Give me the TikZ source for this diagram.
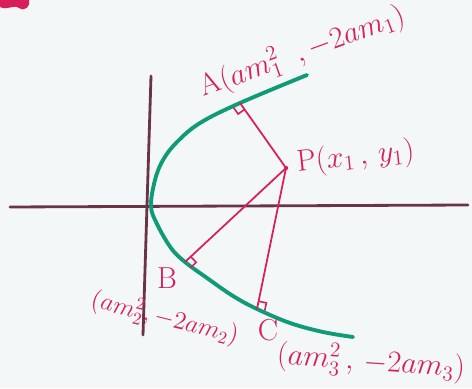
\documentclass[tikz,border=0pt]{standalone}
\usepackage{amsmath,amssymb}
\usepackage{xcolor}
\usepackage{tikz}
\usetikzlibrary{calc}
\definecolor{paper}{HTML}{F4F7F8}
\definecolor{curvegreen}{HTML}{0F9A78}
\definecolor{inkred}{HTML}{D81E5B}
\definecolor{axisbrown}{HTML}{6A3346}
\tikzset{
  axisline/.style={draw=axisbrown, line width=1.6pt, line cap=round},
  curve/.style={draw=curvegreen, line width=2.2pt, line cap=round},
  normal/.style={draw=inkred, line width=1pt},
  rmark/.style={draw=inkred, line width=.9pt},
  lbl/.style={text=inkred, font=\LARGE, inner sep=1pt}
}
% right-angle mark: foot, far point, side
\newcommand{\perpmark}[3]{%
  \draw[rmark] ($(#1)!4.5pt!(#2)$) -- ($(#1)!4.5pt!(#2) + (#1)!4.5pt!#3:(#2) - (#1)$)
    -- ($(#1)!4.5pt!#3:(#2)$);}

\begin{document}
\begin{tikzpicture}[x=0.02cm,y=0.02cm]
  \fill[paper] (0,0) rectangle (472,388);
  \useasboundingbox (0,0) rectangle (472,388);
  \fill[inkred] (0,388) -- (0,381) .. controls (8,377) and (13,384) .. (19,380)
    .. controls (25,376) and (31,382) .. (29,388) -- cycle;

  % axes
  \coordinate (xl) at (10,181);
  \coordinate (xr) at (468,183);
  \coordinate (yt) at (151,312);
  \coordinate (yb) at (143,53);
  \draw[axisline] (xl) -- (xr);
  \draw[axisline] (yt) -- (yb);

  % parabola
  \draw[curve] plot[smooth,tension=.6] coordinates {(307,313) (240,285) (200,265)
    (177,246) (163,228) (155,208) (151,182) (157,164) (171,140) (185,126)
    (207,110) (233,92) (257,79) (290,65) (323,56) (353,51)};

  \coordinate (A) at (240,285);
  \coordinate (B) at (185,126);
  \coordinate (C) at (257,79);
  \coordinate (P) at (286,220);
  \fill[inkred] (P) circle (2.2);

  \draw[normal] (P) -- (A);
  \draw[normal] (P) -- (B);
  \draw[normal] (P) -- (C);
  \perpmark{A}{P}{-90}
  \perpmark{B}{P}{-90}
  \perpmark{C}{P}{-90}

  \node[lbl,rotate=20] (labA) at (302,336) {A$(am_1^2\;\;,-2am_1)$};
  \node[lbl,anchor=west,rotate=6] (labP) at (295,224) {P$(x_1\,,\,y_1)$};
  \node[lbl] (labB) at (167,110) {B};
  \node[lbl,font=\Large,rotate=-14] (coordB) at (165,70) {$(am_2^2,-2am_2)$};
  \node[lbl] (labC) at (268,58) {C};
  \node[lbl,rotate=-4] (coordC) at (371,26) {$(am_3^2\,,\,-2am_3)$};
\end{tikzpicture}
\end{document}
